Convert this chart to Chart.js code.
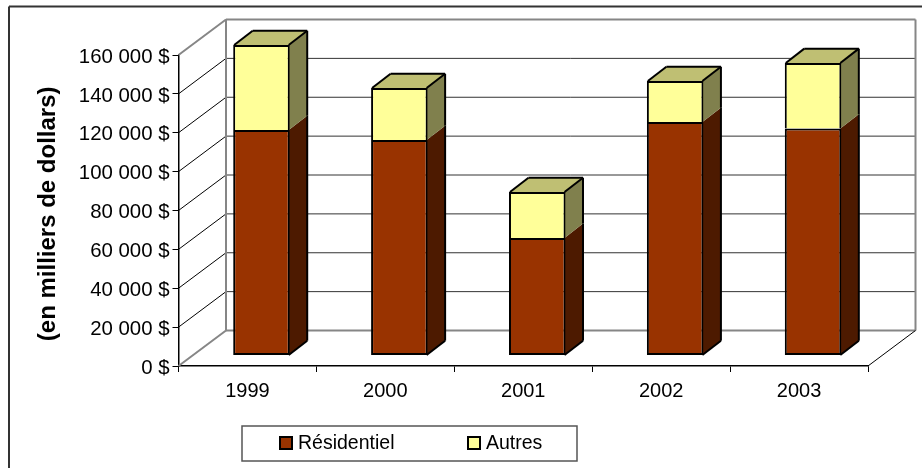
<!DOCTYPE html>
<html>
<head>
<meta charset="utf-8">
<style>
  body { margin: 0; background: #fff; }
  canvas { display: block; }
</style>
<script src="https://cdn.jsdelivr.net/npm/chart.js@4/dist/chart.umd.min.js"></script>
</head>
<body>
<canvas id="chart" width="922" height="468"></canvas>
<script>
const years = ['1999', '2000', '2001', '2002', '2003'];
const residentiel = [116000, 110900, 60500, 120100, 116800];
const autres = [43700, 26700, 23600, 21100, 33700];
const yTicks = [0, 20000, 40000, 60000, 80000, 100000, 120000, 140000, 160000];

const FONT = '"Liberation Sans", Arial, sans-serif';
const wall = { dx: 47.5, dy: -35.5 };   // floor depth, front plane to back wall
const barShift = { dx: 14, dy: -10.5 }; // bars sit a bit behind the front plane
const barDepth = { dx: 18.5, dy: -14.3 };
const sideColors = ['#4d1a00', '#80804d'];
const topColor = '#bfbf73';

function line(ctx, x1, y1, x2, y2, color, width) {
  ctx.strokeStyle = color;
  ctx.lineWidth = width;
  ctx.beginPath();
  ctx.moveTo(x1, y1);
  ctx.lineTo(x2, y2);
  ctx.stroke();
}

function poly(ctx, pts, color) {
  ctx.fillStyle = color;
  ctx.beginPath();
  pts.forEach((p, i) => i ? ctx.lineTo(p[0], p[1]) : ctx.moveTo(p[0], p[1]));
  ctx.closePath();
  ctx.fill();
}

// frame, back wall, floor and the gridlines that run round them
const wallPlugin = {
  id: 'wall',
  beforeDatasetsDraw(chart) {
    const ctx = chart.ctx;
    const { left, right } = chart.chartArea;
    const y = chart.scales.y;
    ctx.save();
    line(ctx, 9, 6.5, 922, 6.5, '#333', 2);
    line(ctx, 9, 6.5, 9, 468, '#333', 2);

    yTicks.forEach(t => {
      const py = y.getPixelForValue(t);
      const edge = t === 0 || t === yTicks[yTicks.length - 1];
      const c = edge ? '#868686' : '#000';
      line(ctx, left, py, left + wall.dx, py + wall.dy, c, edge ? 2 : 1);
      line(ctx, left + wall.dx, py + wall.dy, right + wall.dx, py + wall.dy, edge ? '#868686' : '#333', edge ? 2 : 1);
    });
    const top = y.getPixelForValue(yTicks[yTicks.length - 1]) + wall.dy;
    const bottom = y.getPixelForValue(0) + wall.dy;
    line(ctx, left + wall.dx, top, left + wall.dx, bottom, '#868686', 2);
    line(ctx, right + wall.dx, top, right + wall.dx, bottom, '#868686', 2);
    line(ctx, right, y.getPixelForValue(0), right + wall.dx, bottom, '#000', 1);
    ctx.restore();

    // bars stay shifted until afterDatasetsDraw
    ctx.save();
    ctx.translate(barShift.dx, barShift.dy);
    const n = chart.data.datasets.length;
    chart.data.datasets.forEach((ds, di) => {
      chart.getDatasetMeta(di).data.forEach(bar => {
        const { x, y: yTop, base, width } = bar.getProps(['x', 'y', 'base', 'width']);
        const r = x + width / 2 - 1;
        const l = x - width / 2 + 1;
        const d = barDepth;
        poly(ctx, [[r, yTop], [r + d.dx, yTop + d.dy], [r + d.dx, base + d.dy], [r, base]], sideColors[di]);
        line(ctx, r + d.dx, yTop + d.dy, r + d.dx, base + d.dy, '#000', 2);
        if (di === 0) line(ctx, r, base, r + d.dx, base + d.dy, '#000', 2);
        if (di === n - 1) {
          poly(ctx, [[l, yTop], [l + d.dx, yTop + d.dy], [r + d.dx, yTop + d.dy], [r, yTop]], topColor);
          line(ctx, l, yTop, l + d.dx, yTop + d.dy, '#000', 2);
          line(ctx, l + d.dx, yTop + d.dy, r + d.dx, yTop + d.dy, '#000', 2);
          line(ctx, r + d.dx, yTop + d.dy, r, yTop, '#000', 2);
        }
      });
    });
  },
  afterDatasetsDraw(chart) {
    chart.ctx.restore();
  }
};

// boxed legend under the plot
const legendBoxPlugin = {
  id: 'legendBox',
  afterDraw(chart) {
    const ctx = chart.ctx;
    ctx.save();
    ctx.strokeStyle = '#555';
    ctx.lineWidth = 1.5;
    ctx.strokeRect(242, 426, 335, 35);
    ctx.font = '19.5px ' + FONT;
    ctx.textBaseline = 'middle';
    const xs = [280, 468];
    chart.data.datasets.forEach((ds, i) => {
      ctx.fillStyle = ds.backgroundColor;
      ctx.fillRect(xs[i], 437, 12, 12);
      ctx.strokeStyle = '#000';
      ctx.lineWidth = 2;
      ctx.strokeRect(xs[i], 437, 12, 12);
      ctx.fillStyle = '#000';
      ctx.fillText(ds.label, xs[i] + 18, 444);
    });
    ctx.restore();
  }
};

new Chart(document.getElementById('chart'), {
  type: 'bar',
  data: {
    labels: years,
    datasets: [
      { label: 'Résidentiel', data: residentiel, backgroundColor: '#993300', borderColor: '#000', borderWidth: 2, borderSkipped: false, clip: false },
      { label: 'Autres', data: autres, backgroundColor: '#ffff99', borderColor: '#000', borderWidth: 2, borderSkipped: 'bottom', clip: false }
    ]
  },
  options: {
    responsive: false,
    animation: false,
    barPercentage: 0.82,
    categoryPercentage: 0.5,
    layout: { padding: { top: 55, right: 54, left: 0, bottom: 0 } },
    plugins: { legend: { display: false }, tooltip: { enabled: false } },
    scales: {
      x: {
        stacked: true,
        afterFit: s => { s.height = 102; },
        grid: { drawOnChartArea: false, color: '#000', tickLength: 6 },
        border: { color: '#000', width: 1.5 },
        ticks: { color: '#000', font: { family: FONT, size: 20 }, padding: 7, maxRotation: 0 }
      },
      y: {
        stacked: true,
        min: 0,
        max: 160000,
        afterFit: s => { s.width = 178.5; },
        afterBuildTicks: s => { s.ticks = yTicks.map(v => ({ value: v })); },
        grid: { drawOnChartArea: false, color: '#000', tickLength: 6 },
        border: { color: '#000', width: 1.5 },
        title: {
          display: true,
          text: '(en milliers de dollars) ',
          color: '#000',
          font: { family: FONT, size: 24, weight: 'bold' },
          padding: { top: 34, bottom: 0 }
        },
        ticks: {
          color: '#000',
          font: { family: FONT, size: 20.4 },
          padding: 3,
          labelOffset: 2,
          callback: v => String(v).replace(/\B(?=(\d{3})+$)/g, ' ') + ' $'
        }
      }
    }
  },
  plugins: [wallPlugin, legendBoxPlugin]
});
</script>
</body>
</html>
